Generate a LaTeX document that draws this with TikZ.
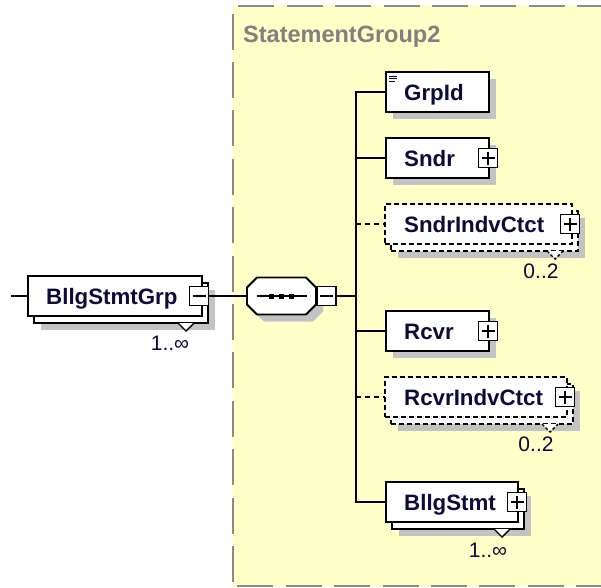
\documentclass[tikz,border=0pt]{standalone}
\usepackage{fontspec}
\setmainfont{Liberation Sans}
\usetikzlibrary{calc,shadows}
\definecolor{bgyellow}{HTML}{FFFFC8}
\definecolor{framegray}{HTML}{8A8A8A}
\definecolor{shadowgray}{HTML}{C3C3C3}
\definecolor{titlegray}{HTML}{808080}
\definecolor{textc}{HTML}{0C0C3A}
\begin{document}
\begin{tikzpicture}[x=1pt,y=-1pt,
  conn/.style={line width=1.8pt, draw=black},
  dconn/.style={conn, dash pattern=on 5pt off 4pt},
  elbox/.style={rectangle, draw=black, line width=1.8pt, fill=white, inner sep=0pt, outer sep=0pt, minimum height=40pt},
  optbox/.style={elbox, dash pattern=on 5pt off 3pt},
  shad/.style={drop shadow={opacity=1, fill=shadowgray, shadow xshift=7pt, shadow yshift=-7pt}},
  lbl/.style={font=\bfseries\fontsize{22.3}{26}\selectfont, text=textc, inner sep=0pt, anchor=base west},
  mult/.style={font=\fontsize{21}{24}\selectfont, text=textc, inner sep=0pt, anchor=base},
  pmbox/.style={rectangle, draw=black, fill=white, line width=1.4pt, minimum size=19pt, inner sep=0pt, outer sep=0pt},
  plusbox/.style={pmbox, path picture={\draw[line width=1.4pt] ([xshift=3pt]path picture bounding box.west) -- ([xshift=-3pt]path picture bounding box.east) ([yshift=-3pt]path picture bounding box.north) -- ([yshift=3pt]path picture bounding box.south);}},
  minusbox/.style={pmbox, path picture={\draw[line width=1.4pt] ([xshift=3pt]path picture bounding box.west) -- ([xshift=-3pt]path picture bounding box.east);}},
  notch/.style={draw=black, line width=1.4pt, fill=white},
  frame/.style={draw=framegray, line width=2pt, dash pattern=on 36pt off 12.4pt}
]
\useasboundingbox (0,0) rectangle (601,587);
% group background
\fill[bgyellow] (233,5) rectangle (601,586);
\coordinate (ftl) at (233.3,5.5);
\coordinate (ftr) at (601,5.5);
\coordinate (fbl) at (233.3,585.8);
\coordinate (fbr) at (601,585.8);
\draw[frame, dash phase=43.4pt] (ftl) -- (ftr);
\draw[frame, dash phase=40.4pt] (ftl) -- (fbl);
\draw[frame, dash phase=44.4pt] (fbl) -- (fbr);
\node[font=\bfseries\fontsize{23.5}{27}\selectfont, text=titlegray, inner sep=0pt, anchor=base west] (title) at (243,42) {StatementGroup2};

% BllgStmtGrp
\node[elbox, shad, minimum width=174pt] (grpB) at (121,303) {};
\draw[notch] ($(grpB.south east)+(-30,0)$) -- ++(8,8) -- ++(8,-8);
\node[elbox, minimum width=174pt] (grp) at (115,296) {};
\node[minusbox] (grpM) at (199,296) {};
\node[lbl] (grpT) at ($(grp.west)+(18,8)$) {BllgStmtGrp};
\node[mult] (grpN) at ($(grpB.south east)+(-38,27)$) {1..∞};
\coordinate (inp) at (11,296);

% sequence compositor
\node[rectangle, minimum width=69pt, minimum height=37pt, inner sep=0pt, outer sep=0pt] (seq) at (281.5,296) {};
\draw[conn, fill=white, shad] ($(seq.north west)+(10,0)$) -- ($(seq.north east)+(-10,0)$) -- ($(seq.north east)+(0,10)$) -- ($(seq.south east)+(0,-10)$) -- ($(seq.south east)+(-10,0)$) -- ($(seq.south west)+(10,0)$) -- ($(seq.south west)+(0,-10)$) -- ($(seq.north west)+(0,10)$) -- cycle;
\draw[conn] ($(seq.center)+(-25,0)$) -- ($(seq.center)+(25,0)$);
\fill ($(seq.center)+(-12.5,-2.5)$) rectangle ++(5,5);
\fill ($(seq.center)+(-2.5,-2.5)$) rectangle ++(5,5);
\fill ($(seq.center)+(7.5,-2.5)$) rectangle ++(5,5);
\node[minusbox] (seqM) at (326.5,296) {};
\coordinate (jn) at (356,296);

% GrpId
\node[elbox, shad, minimum width=103pt] (grpid) at (437.5,92) {};
\draw[line width=1pt] ($(grpid.north west)+(3,4.3)$) -- ++(8,0);
\draw[line width=1pt] ($(grpid.north west)+(3,6.7)$) -- ++(8,0);
\draw[line width=1pt] ($(grpid.north west)+(3,9.1)$) -- ++(6,0);
\node[lbl] (grpidT) at ($(grpid.west)+(18,8)$) {GrpId};

% Sndr
\node[elbox, shad, minimum width=103pt] (sndr) at (437.5,158) {};
\node[plusbox] (sndrP) at ($(sndr.east)+(-1,0)$) {};
\node[lbl] (sndrT) at ($(sndr.west)+(18,8)$) {Sndr};

% SndrIndvCtct
\node[optbox, shad, minimum width=187pt] (sicB) at (484.5,231) {};
\draw[notch, dash pattern=on 3pt off 2pt] ($(sicB.south east)+(-31,0)$) -- ++(8,8) -- ++(8,-8);
\node[optbox, minimum width=187pt] (sic) at (478.5,224) {};
\node[plusbox] (sicP) at ($(sic.east)+(-2,0)$) {};
\node[lbl] (sicT) at ($(sic.west)+(19,8)$) {SndrIndvCtct};
\node[mult] (sicN) at ($(sicB.south east)+(-37,27)$) {0..2};

% Rcvr
\node[elbox, shad, minimum width=103pt] (rcvr) at (437.5,331) {};
\node[plusbox] (rcvrP) at ($(rcvr.east)+(-1,0)$) {};
\node[lbl] (rcvrT) at ($(rcvr.west)+(18,8)$) {Rcvr};

% RcvrIndvCtct
\node[optbox, shad, minimum width=182pt] (ricB) at (482,404) {};
\draw[notch, dash pattern=on 3pt off 2pt] ($(ricB.south east)+(-31,0)$) -- ++(8,8) -- ++(8,-8);
\node[optbox, minimum width=182pt] (ric) at (476,397) {};
\node[plusbox] (ricP) at ($(ric.east)+(-2,0)$) {};
\node[lbl] (ricT) at ($(ric.west)+(19,8)$) {RcvrIndvCtct};
\node[mult] (ricN) at ($(ricB.south east)+(-37,27)$) {0..2};

% BllgStmt
\node[elbox, shad, minimum width=132pt] (bllgB) at (458,509) {};
\draw[notch] ($(bllgB.south east)+(-30,0)$) -- ++(8,8) -- ++(8,-8);
\node[elbox, minimum width=132pt] (bllg) at (452,502) {};
\node[plusbox] (bllgP) at ($(bllg.east)+(-1,0)$) {};
\node[lbl] (bllgT) at ($(bllg.west)+(18,8)$) {BllgStmt};
\node[mult] (bllgN) at ($(bllgB.south east)+(-36,28)$) {1..∞};

% connectors
\draw[conn] (inp) -- (grp.west);
\draw[conn] (grpM.east) -- (seq.west);
\draw[conn] (seqM.east) -- (jn);
\draw[conn] (grpid.west) -- (jn |- grpid.west) -- (jn |- bllg.west) -- (bllg.west);
\draw[conn] (jn |- sndr.west) -- (sndr.west);
\draw[dconn] (jn |- sic.west) -- (sic.west);
\draw[conn] (jn |- rcvr.west) -- (rcvr.west);
\draw[dconn] (jn |- ric.west) -- (ric.west);
\end{tikzpicture}
\end{document}
